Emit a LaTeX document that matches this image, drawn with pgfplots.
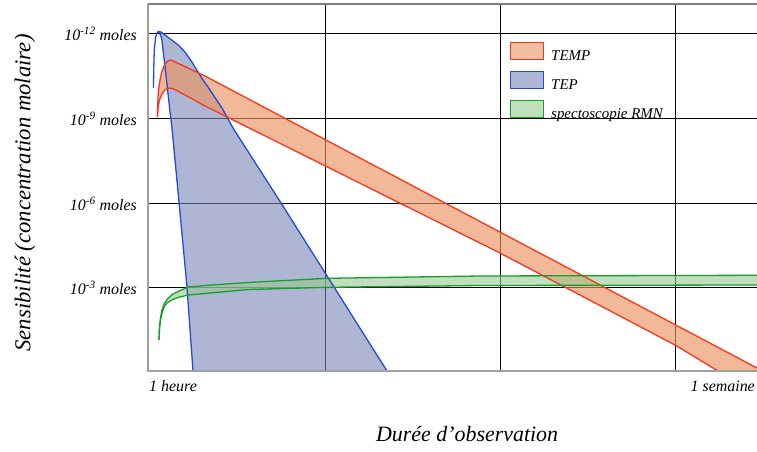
\documentclass[border=0pt]{standalone}
\usepackage{fontspec}
\setmainfont{Liberation Serif}
\usepackage{pgfplots}
\pgfplotsset{compat=1.18}
\definecolor{redline}{RGB}{245,55,30}
\definecolor{blueline}{RGB}{35,75,215}
\definecolor{greenline}{RGB}{20,160,40}
\definecolor{redfill}{RGB}{233,147,97}
\definecolor{bluefill}{RGB}{122,133,183}
\definecolor{greenfill}{RGB}{155,200,147}
\definecolor{axisgray}{RGB}{160,160,160}
\begin{document}
\begin{tikzpicture}
\begin{axis}[
  scale only axis, width=609bp, height=367bp,
  xmin=148, xmax=757, ymin=-371, ymax=-4,
  clip=false,
  axis line style={draw=none},
  xtick={325,500,675}, xticklabels={},
  ytick={-287,-203,-118,-33},
  yticklabels={10\textsuperscript{-3} moles,10\textsuperscript{-6} moles,10\textsuperscript{-9} moles,10\textsuperscript{-12} moles},
  major tick length=0pt,
  xmajorgrids, ymajorgrids,
  grid style={black, line width=0.9bp},
  yticklabel style={font=\fontsize{16}{19}\selectfont\itshape, inner sep=0pt, anchor=base east, xshift=-11bp, yshift=-7.5bp},
  legend style={at={(axis cs:510,-41.7)}, anchor=north west, draw=none, fill=none,
    inner sep=0pt, outer sep=0pt, row sep=8.8bp, column sep=7bp,
    font=\fontsize{15}{18}\selectfont\itshape, nodes={inner sep=0pt}},
  legend cell align=left,
  legend image code/.code={\draw[#1] (0bp,-3bp) rectangle (33bp,14bp);},
  xlabel={Durée d’observation},
  xlabel style={font=\fontsize{22}{26}\selectfont\itshape, at={(axis description cs:0.524,-0.191)}, anchor=base, inner sep=0pt},
  ylabel={Sensibilité (concentration molaire)},
  ylabel style={font=\fontsize{22.8}{27}\selectfont\itshape, at={(axis description cs:-0.202,0.485)}, anchor=center, rotate=0, inner sep=0pt},
]
\addlegendimage{fill=redfill, fill opacity=0.6, draw=redline, line width=1.2bp}
\addlegendentry{TEMP}
\addlegendimage{fill=bluefill, fill opacity=0.6, draw=blueline, line width=1.2bp}
\addlegendentry{TEP}
\addlegendimage{fill=greenfill, fill opacity=0.6, draw=greenline, line width=1.2bp}
\addlegendentry{spectoscopie RMN}

% TEP fill
\addplot[forget plot, draw=none, fill=bluefill, fill opacity=0.6] coordinates {
 (158.3,-31.5) (161,-32) (165,-35) (171,-39.5) (178.3,-45) (185,-52) (191.7,-61.7) (201.7,-78) (208,-87) (222,-108) (233,-128) (281,-203) (334,-287) (387,-371)
 (193,-371) (187,-287) (179,-202) (171.7,-125) (170,-111.7) (166.7,-81.7) (164,-58) (161.7,-38.3) (160,-34) (158.3,-31.5)
} -- cycle;
% TEMP fill
\addplot[forget plot, draw=none, fill=redfill, fill opacity=0.65] coordinates {
 (157.5,-117) (157.7,-105) (158.3,-92) (160,-80) (161.7,-72) (164,-66) (166.7,-62) (170,-60) (172,-60.5) (205,-76) (757,-368)
 (757,-371) (718,-371) (675,-345) (498,-252) (205,-106) (175,-89.5) (171,-88.3) (168.3,-88.3) (165,-90) (162,-94) (159.5,-100) (158,-108) (157.5,-117)
} -- cycle;
% RMN fill
\addplot[forget plot, draw=none, fill=greenfill, fill opacity=0.6] coordinates {
 (159,-340) (159.5,-328) (160.5,-318) (162,-310) (164.5,-303) (168.3,-298) (173,-294) (178.3,-291.5) (188,-287) (205,-285.5) (248,-282.5) (328,-278.3) (480,-276) (757,-275.3)
 (757,-285) (480,-285.5) (328,-287.3) (248,-289.5) (205,-293.5) (188,-295) (178,-297.5) (171.7,-300) (167,-303) (164,-307) (162,-313) (160.5,-320) (159.5,-328) (159,-340)
} -- cycle;

% TEP outline
\addplot[forget plot, blueline, line width=1.3bp] coordinates {
 (153.5,-88) (153.7,-70) (154.3,-50) (155.5,-38) (157,-33) (158.3,-31.5)
 (161,-32) (165,-35) (171,-39.5) (178.3,-45) (185,-52) (191.7,-61.7) (201.7,-78) (208,-87) (222,-108) (233,-128) (281,-203) (334,-287) (387,-371)
};
\addplot[forget plot, blueline, line width=1.3bp] coordinates {
 (158.3,-31.5) (160,-34) (161.7,-38.3) (164,-58) (166.7,-81.7) (170,-111.7) (171.7,-125) (179,-202) (187,-287) (193,-371)
};
% TEMP outline
\addplot[forget plot, redline, line width=1.3bp] coordinates {
 (157.5,-117) (157.7,-105) (158.3,-92) (160,-80) (161.7,-72) (164,-66) (166.7,-62) (170,-60) (172,-60.5) (205,-76) (757,-368)
};
\addplot[forget plot, redline, line width=1.3bp] coordinates {
 (157.5,-117) (158,-108) (159.5,-100) (162,-94) (165,-90) (168.3,-88.3) (171,-88.3) (175,-89.5) (205,-106) (498,-252) (675,-345) (718,-371)
};
% RMN outline
\addplot[forget plot, greenline, line width=1.3bp] coordinates {
 (159,-340) (159.5,-328) (160.5,-318) (162,-310) (164.5,-303) (168.3,-298) (173,-294) (178.3,-291.5) (188,-287) (205,-285.5) (248,-282.5) (328,-278.3) (480,-276) (757,-275.3)
};
\addplot[forget plot, greenline, line width=1.3bp] coordinates {
 (159,-340) (159.5,-328) (160.5,-320) (162,-313) (164,-307) (167,-303) (171.7,-300) (178,-297.5) (188,-295) (205,-293.5) (248,-289.5) (328,-287.3) (480,-285.5) (757,-285)
};

% frame
\draw[axisgray, line width=2.5bp] (axis cs:148,-4) -- (axis cs:148,-371) -- (axis cs:757,-371);
\draw[axisgray!80!black, line width=1.5bp] (axis cs:148,-4) -- (axis cs:757,-4);

\node[font=\fontsize{16}{19}\selectfont\itshape, anchor=base west, inner sep=0pt] at (axis cs:149,-391) {1 heure};
\node[font=\fontsize{16}{19}\selectfont\itshape, anchor=base east, inner sep=0pt] at (axis cs:755,-391) {1 semaine};
\end{axis}
\pgfresetboundingbox
\path[use as bounding box] (-148bp,-81bp) rectangle (609bp,371bp);
\end{tikzpicture}
\end{document}
